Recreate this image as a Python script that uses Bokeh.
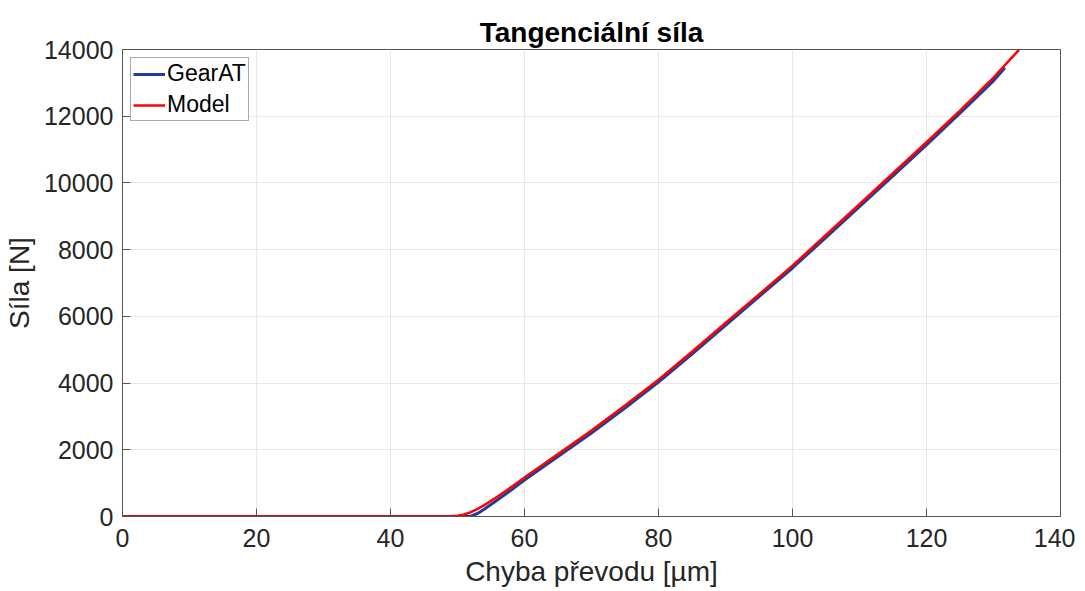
from bokeh.plotting import figure
from bokeh.models import Range1d, FixedTicker, Legend, LegendItem
from bokeh.embed import file_html
from bokeh.resources import INLINE

# Data
gear_x = [0, 10, 20, 30, 40, 48, 50, 51, 52, 53, 54, 56, 58, 60, 65, 70, 75, 80, 85, 90,
          95, 100, 105, 110, 115, 120, 125, 130, 131.7]
gear_y = [0, 0, 0, 0, 0, 0, 0, 0, 10, 90, 220, 500, 790, 1090, 1800, 2500, 3250, 4030, 4870, 5730,
          6590, 7450, 8370, 9290, 10210, 11140, 12090, 13060, 13450]
model_x = [0, 10, 20, 30, 40, 48, 49, 50, 51, 52, 53, 54, 56, 58, 60, 65, 70, 75, 80, 85, 90,
           95, 100, 105, 110, 115, 120, 125, 130, 133.8]
model_y = [0, 0, 0, 0, 0, 0, 5, 25, 60, 130, 230, 340, 600, 880, 1170, 1870, 2580, 3330, 4100, 4940, 5800,
           6660, 7520, 8440, 9360, 10290, 11220, 12170, 13160, 13990]
x_ticks = [0, 20, 40, 60, 80, 100, 120, 140]
y_ticks = [0, 2000, 4000, 6000, 8000, 10000, 12000, 14000]

FONT = "Liberation Sans"
TXT = "#262626"
AX = "#555555"

p = figure(frame_width=938, frame_height=467, min_border_left=114, min_border_top=49,
           min_border_right=15, min_border_bottom=66,
           x_range=Range1d(0, 140), y_range=Range1d(0, 14000),
           output_backend="svg", toolbar_location=None,
           title="Tangenciální síla")

p.title.align = "center"
p.title.text_font = FONT
p.title.text_font_size = "28px"
p.title.text_font_style = "bold"
p.title.text_color = "#000000"
p.title.offset = 0
p.title.standoff = 4

p.background_fill_color = "white"
p.border_fill_color = "white"
p.outline_line_color = AX
p.outline_line_width = 1

for ax, ticks in ((p.xaxis[0], x_ticks), (p.yaxis[0], y_ticks)):
    ax.ticker = FixedTicker(ticks=ticks)
    ax.major_tick_in = 8
    ax.major_tick_out = 0
    ax.minor_tick_in = 0
    ax.minor_tick_out = 0
    ax.axis_line_color = AX
    ax.major_tick_line_color = AX
    ax.major_label_text_font = FONT
    ax.major_label_text_font_size = "25px"
    ax.major_label_text_color = TXT
    ax.axis_label_text_font = FONT
    ax.axis_label_text_font_size = "28px"
    ax.axis_label_text_font_style = "normal"
    ax.axis_label_text_color = TXT

p.xaxis.axis_label = "Chyba převodu [µm]"
p.yaxis.axis_label = "Síla [N]"
p.xaxis.major_label_standoff = 12
p.yaxis.major_label_standoff = 9
p.xaxis.axis_label_standoff = 6
p.yaxis.axis_label_standoff = 6

p.xgrid.ticker = FixedTicker(ticks=x_ticks)
p.ygrid.ticker = FixedTicker(ticks=y_ticks)
p.grid.grid_line_color = "#e8e8e8"
p.grid.grid_line_width = 1

g = p.line(gear_x, gear_y, line_color="#1f3e9c", line_width=3)
m = p.line(model_x, model_y, line_color="#ff0000", line_width=2.5)

legend = Legend(items=[LegendItem(label="GearAT", renderers=[g]),
                       LegendItem(label="Model", renderers=[m])],
                location="top_left")
legend.label_text_font = FONT
legend.label_text_font_size = "23px"
legend.label_text_color = "#000000"
legend.border_line_color = AX
legend.border_line_width = 1
legend.background_fill_color = "white"
legend.background_fill_alpha = 1
legend.glyph_width = 32
legend.glyph_height = 26
legend.label_height = 26
legend.label_standoff = 2
legend.padding = 2
legend.spacing = 4
legend.margin = 8
p.add_layout(legend)

open("out.html", "w").write(file_html(p, INLINE))
